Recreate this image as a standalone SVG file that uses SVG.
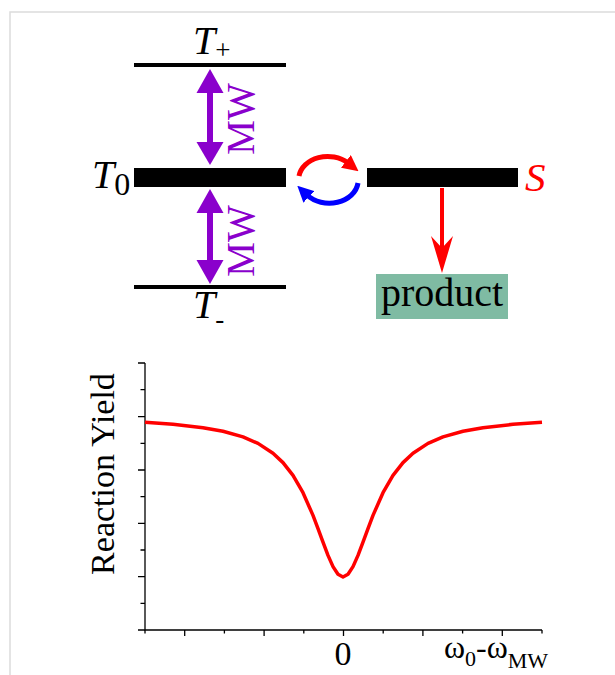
<svg xmlns="http://www.w3.org/2000/svg" width="615" height="675" viewBox="0 0 615 675">
  <style>
    .serif { font-family: "Liberation Serif", "Times New Roman", serif; }
    .it { font-style: italic; }
    .lvl { stroke: #000; stroke-width: 4; }
    .bar { fill: #000; }
    .mw { fill: #8a00cc; }
    .mwtxt { fill: #8a00cc; font-size: 39px; }
    .axis { stroke: #000; stroke-width: 1.3; fill: none; }
  </style>
  <defs>
    <marker id="headRed" viewBox="0 0 12 12" markerUnits="userSpaceOnUse" markerWidth="16" markerHeight="16" refX="2" refY="6" orient="auto">
      <path d="M0,0 L12,6 L0,12 z" fill="#ff0000"/>
    </marker>
    <marker id="headBlue" viewBox="0 0 12 12" markerUnits="userSpaceOnUse" markerWidth="16" markerHeight="16" refX="2" refY="6" orient="auto">
      <path d="M0,0 L12,6 L0,12 z" fill="#0000ff"/>
    </marker>
  </defs>

  <!-- frame -->
  <path d="M10,675 L10,12 L615,12" fill="none" stroke="#dcdcdc" stroke-width="1.5"/>

  <g id="T_plus">
    <line class="lvl" x1="134" y1="65" x2="286" y2="65"/>
    <text class="serif" x="193" y="54" font-size="40"><tspan class="it">T</tspan><tspan font-size="27" dy="5">+</tspan></text>
  </g>
  <g id="T_zero">
    <rect class="bar" x="134" y="168" width="152" height="19"/>
    <text class="serif" x="92" y="188" font-size="40"><tspan class="it">T</tspan><tspan font-size="32" dy="7">0</tspan></text>
  </g>
  <g id="T_minus">
    <line class="lvl" x1="134" y1="287" x2="286" y2="287"/>
    <text class="serif" x="193" y="318" font-size="40"><tspan class="it">T</tspan><tspan font-size="27" dy="10">-</tspan></text>
  </g>
  <g id="S">
    <rect class="bar" x="367" y="168" width="151" height="19"/>
    <text class="serif it" x="525" y="191" font-size="41" fill="#ff0000">S</text>
  </g>
  <g id="product">
    <rect x="376" y="274" width="132" height="45" fill="#7fbba3"/>
    <text class="serif" x="442" y="306" font-size="40" text-anchor="middle">product</text>
  </g>

  <g id="connectors">
    <!-- MW upper -->
    <rect class="mw" x="207" y="90" width="6" height="55"/>
    <polygon class="mw" points="210,69 223.5,93 196.5,93"/>
    <polygon class="mw" points="210,165 223.5,142 196.5,142"/>
    <text class="serif mwtxt" transform="translate(254,119) rotate(-90)" text-anchor="middle">MW</text>
    <!-- MW lower -->
    <rect class="mw" x="207" y="210" width="6" height="52"/>
    <polygon class="mw" points="210,189 223.5,213 196.5,213"/>
    <polygon class="mw" points="210,284 223.5,260 196.5,260"/>
    <text class="serif mwtxt" transform="translate(254,241) rotate(-90)" text-anchor="middle">MW</text>
    <!-- exchange cycle -->
    <path d="M299,176 A29,23 0 0 1 348,163" fill="none" stroke="#ff0000" stroke-width="5" marker-end="url(#headRed)"/>
    <path d="M358,183 A29,23 0 0 1 307,195" fill="none" stroke="#0000ff" stroke-width="5" marker-end="url(#headBlue)"/>
    <!-- reaction arrow -->
    <line x1="442" y1="188" x2="442" y2="250" stroke="#ff0000" stroke-width="4"/>
    <polygon points="442,273 453,236 442,248 431,236" fill="#ff0000"/>
  </g>

  <g id="plot">
    <path class="axis" d="M145,363 L145,630 L542,630"/>
    <path class="axis" d="M145,363 h-7 M145,389.7 h-4.5 M145,416.7 h-7 M145,443.3 h-4.5 M145,470 h-7 M145,496.7 h-4.5 M145,523.3 h-7 M145,550 h-4.5 M145,576.7 h-7 M145,603.3 h-4.5 M145,630 h-7"/>
    <path class="axis" d="M145,630 v3.5 M184.7,630 v6 M224.4,630 v3.5 M264.1,630 v6 M303.8,630 v3.5 M343.5,630 v6 M383.2,630 v3.5 M422.9,630 v6 M462.6,630 v3.5 M502.3,630 v6 M542,630 v3.5"/>
    <path d="M145,422.3 L173,424.3 L203,427.7 L223,431.3 L243,436.9 L258,443.4 L273,453.2 L283,462.6 L293,475.4 L303,492.7 L313,515.4 L318,528.6 L323,542.2 L328,555.4 L333,566.6 L338,574.3 L343,577 L348,574.3 L353,566.6 L358,555.4 L363,542.2 L368,528.6 L373,515.4 L383,492.7 L393,475.4 L403,462.6 L413,453.2 L428,443.4 L443,436.9 L463,431.3 L483,427.7 L513,424.3 L542,422.3" fill="none" stroke="#ff0000" stroke-width="3.5" stroke-linejoin="round"/>
    <text class="serif" transform="translate(114,474) rotate(-90)" font-size="34" text-anchor="middle">Reaction Yield</text>
    <text class="serif" x="343" y="665" font-size="34" text-anchor="middle">0</text>
    <text class="serif" x="444" y="658" font-size="32">ω<tspan font-size="22" dy="8">0</tspan><tspan dy="-8">-ω</tspan><tspan font-size="22" dy="10">MW</tspan></text>
  </g>
</svg>
